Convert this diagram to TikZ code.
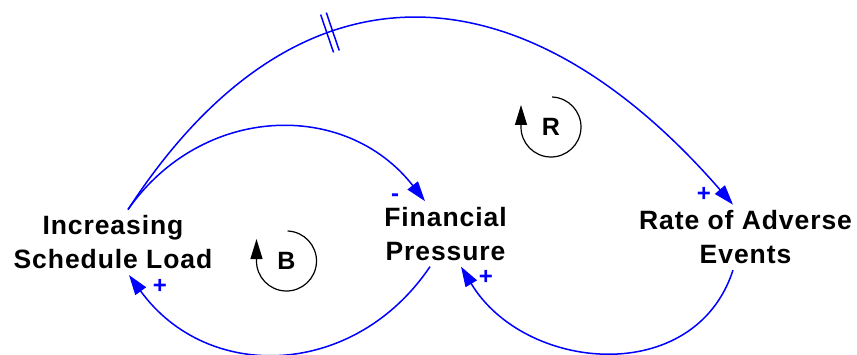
\documentclass[tikz,border=0pt]{standalone}
\usepackage{fontspec}
\setmainfont{Liberation Sans}[LetterSpace=3.5]
\usetikzlibrary{arrows.meta, decorations.markings}

\begin{document}
\begin{tikzpicture}[
    x=1pt, y=1pt,
    var/.style={
        font=\fontsize{26.5}{34}\selectfont\bfseries, align=center,
        inner sep=0pt, outer sep=6pt
    },
    link/.style={-{Triangle[length=20pt, width=13pt]}, line width=1.5pt, draw=blue},
    pol/.style={font=\fontsize{24}{24}\selectfont\bfseries, text=blue, inner sep=0pt},
    loopsym/.style={font=\fontsize{25}{25}\selectfont\bfseries, inner sep=0pt},
    looparc/.style={-{Triangle[length=20pt, width=12pt]}, line width=1.2pt},
    delaymark/.style={postaction={decorate}, decoration={markings,
        mark=at position #1 with {\draw[-, blue, line width=1.5pt] (-3pt,-20pt) -- (-3pt,20pt) (3pt,-20pt) -- (3pt,20pt);}}}
]
\useasboundingbox (0,0) rectangle (857,354);

% Variables
\node[var] (v_load) at (113, 111.7) {Increasing\\Schedule Load};
\node[var] (v_press) at (445.5, 120.1) {Financial\\Pressure};
\node[var] (v_rate) at (745.5, 116.6) {Rate of Adverse\\Events};

% Links
\draw[link] ([xshift=15pt]v_load.north) to[out=55, in=128, looseness=1.11] ([xshift=-20.5pt]v_press.north);
\draw[link, delaymark=0.37] ([xshift=15pt]v_load.north) to[out=57, in=131, looseness=1.33] ([xshift=-12.5pt]v_rate.north);
\draw[link] ([xshift=-15.5pt]v_press.south) to[out=-124, in=-54, looseness=1.14] ([xshift=16pt]v_load.south);
\draw[link] ([xshift=-12.5pt]v_rate.south) to[out=-108, in=-59, looseness=1.16] ([xshift=15.5pt]v_press.south);

% Polarities
\node[pol] (p_press) at (395, 156) {-};
\node[pol] (p_rate) at (704, 160) {+};
\node[pol] (p_load) at (160, 68) {+};
\node[pol] (p_press2) at (486, 77) {+};

% Loop identifiers
\node[loopsym] (l_bal) at (286.5, 93) {B};
\draw[looparc] ([shift={(88:30pt)}]l_bal.center) arc[start angle=88, end angle=-180, radius=30pt] -- ++(0,22pt);
\node[loopsym] (l_rein) at (551, 227) {R};
\draw[looparc] ([shift={(88:30pt)}]l_rein.center) arc[start angle=88, end angle=-180, radius=30pt] -- ++(0,22pt);

\end{tikzpicture}
\end{document}
